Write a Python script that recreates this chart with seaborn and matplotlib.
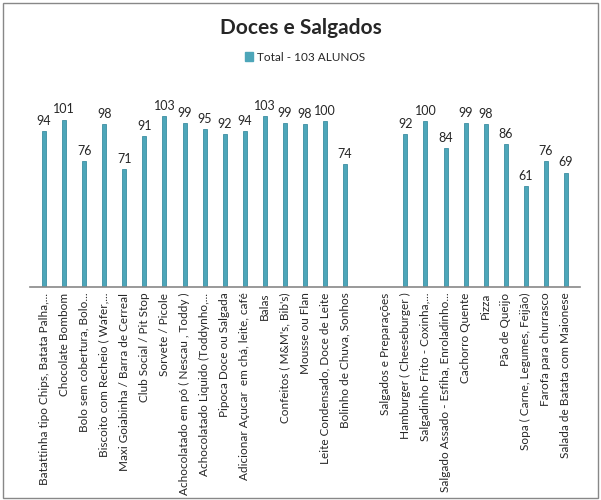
import numpy as np
import pandas as pd
import matplotlib.pyplot as plt
import seaborn as sns

# Data
categorias = [
    'Batattinha tipo Chips, Batata Palha,...',
    'Chocolate Bombom',
    'Bolo sem cobertura, Bolo...',
    'Biscoito com Recheio ( Wafer,...',
    'Maxi Goiabinha / Barra de Cerreal',
    'Club Social / Pit Stop',
    'Sorvete / Picole',
    'Achocolatado em pó ( Nescau , Toddy )',
    'Achocolatado Liquido (Toddynho,...',
    'Pipoca Doce ou Salgada',
    'Adicionar Açucar  em chá, leite, café',
    'Balas',
    "Confeitos ( M&M's, Bib's)",
    'Mousse ou Flan',
    'Leite Condensado, Doce de Leite',
    'Bolinho de Chuva, Sonhos',
    '',
    'Salgados e Preparações',
    'Hamburger ( Cheeseburger )',
    'Salgadinho Frito - Coxinha,...',
    'Salgado Assado - Esfiha, Enroladinho...',
    'Cachorro Quente',
    'Pizza',
    'Pão de Queijo',
    'Sopa ( Carne, Legumes, Feijão)',
    'Farofa para churrasco',
    'Salada de Batata com Maionese',
]
totais = [94, 101, 76, 98, 71, 91, 103, 99, 95, 92, 94, 103, 99, 98, 100, 74,
          np.nan, np.nan,
          92, 100, 84, 99, 98, 86, 61, 76, 69]
serie = 'Total - 103 ALUNOS'

df = pd.DataFrame({'Categoria': categorias, 'Total': totais})

sns.set_style('white')
plt.rcParams['font.family'] = ['Lato', 'DejaVu Sans']

fig = plt.figure(figsize=(6.01, 5), dpi=100)
ax = fig.add_axes([30/601, 213/500, 550/601, 199/500])

sns.barplot(data=df, x='Categoria', y='Total', order=categorias,
            color='#4DA6B9', width=0.2, saturation=1, ax=ax,
            edgecolor='#3E8FA2', linewidth=0.6)

for i, v in enumerate(totais):
    if not np.isnan(v):
        ax.text(i, v + 2.5, f'{int(v)}', ha='center', va='bottom', fontsize=9)

ax.set_ylim(0, 120)
ax.set_xlim(-0.7, len(categorias) - 0.3)
ax.set_yticks([])
ax.set_xlabel('')
ax.set_ylabel('')
ax.set_xticks(range(len(categorias)))
ax.set_xticklabels(categorias, rotation=90, fontsize=8.5)
ax.tick_params(axis='x', length=0, pad=4)
ax.set_xticks(np.arange(-0.5, len(categorias), 1), minor=True)
ax.tick_params(axis='x', which='minor', length=4, color='#888888', width=0.8)

for s in ['top', 'right', 'left']:
    ax.spines[s].set_visible(False)
ax.spines['bottom'].set_color('#888888')
ax.spines['bottom'].set_linewidth(1.2)

fig.suptitle('Doces e Salgados', y=0.965, fontsize=15, fontweight='bold')
ax.legend(handles=[plt.Rectangle((0, 0), 1, 1, color='#4DA6B9')], labels=[serie],
          loc='center', bbox_to_anchor=(0.5, (439 - 213) / 199 + 0.02), frameon=False,
          fontsize=8.5, handlelength=0.7, handleheight=0.7, handletextpad=0.3)

# gray frame around the whole picture
fig.patches.append(plt.Rectangle((0.005, 0.005), 0.99, 0.99, transform=fig.transFigure,
                                 fill=False, edgecolor='#888888', linewidth=1))

fig.savefig('out.png', dpi=100)
